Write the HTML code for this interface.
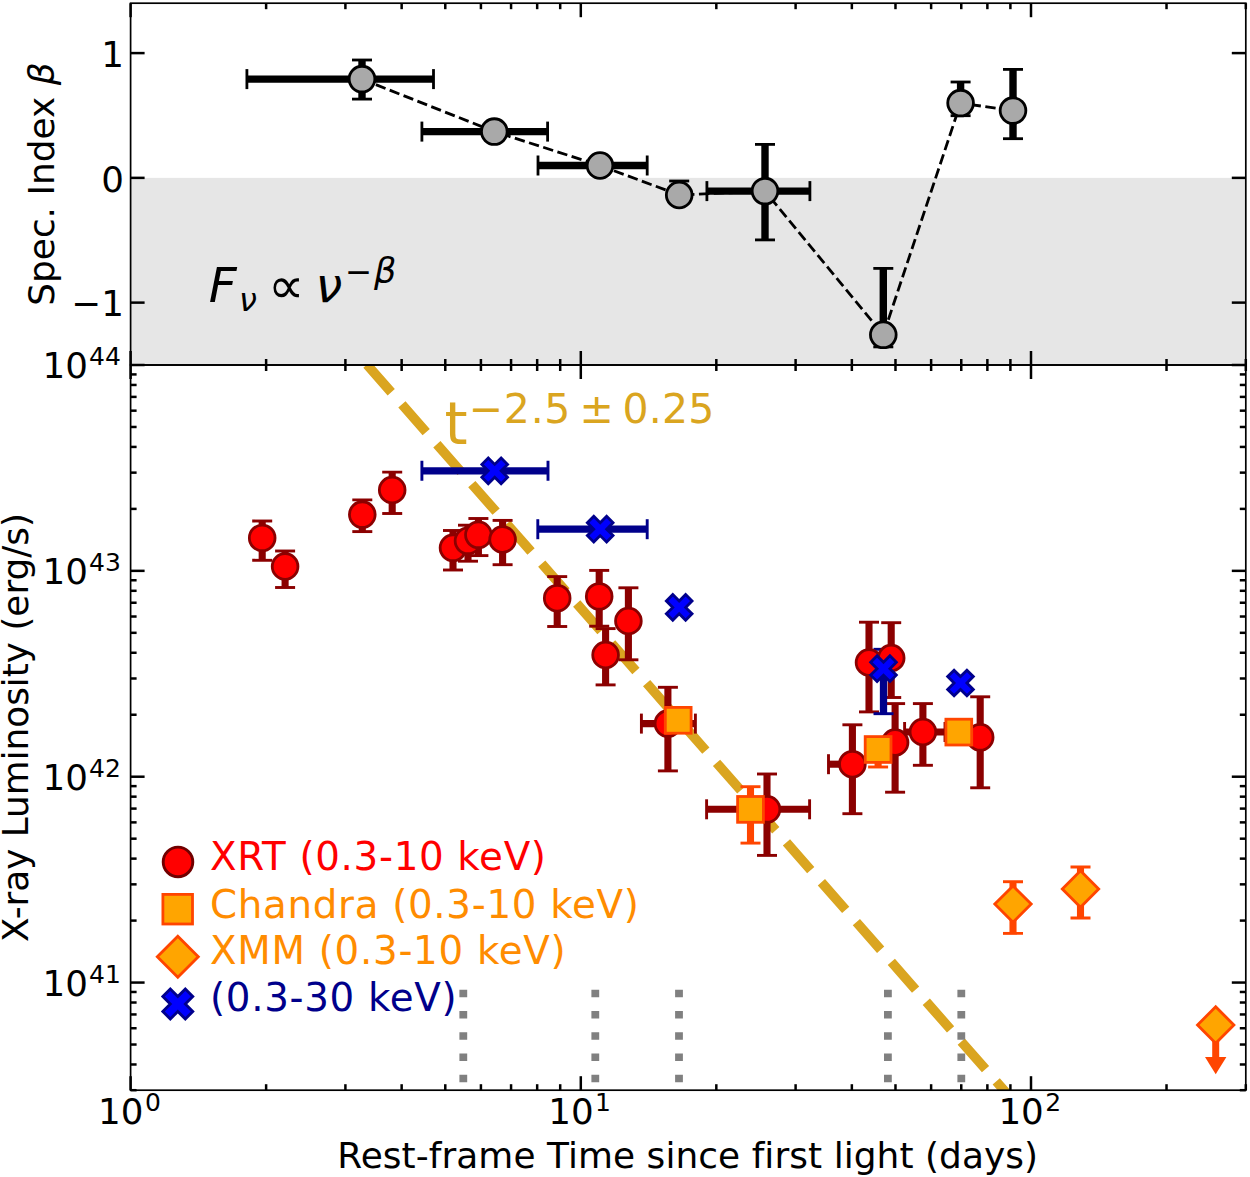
<!DOCTYPE html>
<html lang="en"><head><meta charset="utf-8"><title>X-ray luminosity and spectral index</title>
<style>html,body{margin:0;padding:0;background:#fff}svg{display:block}text{font-family:'DejaVu Sans','Liberation Sans',sans-serif;font-variant-ligatures:none;font-feature-settings:"liga" 0,"clig" 0;font-kerning:normal;}</style></head><body>
<svg width="1250" height="1177" viewBox="0 0 1250 1177">
<rect x="0" y="0" width="1250" height="1177" fill="#ffffff"/>
<rect x="130.60" y="177.86" width="1115.20" height="187.14" fill="#e6e6e6"/>
<g id="top-series">
<line x1="246.9" y1="79.1" x2="433.5" y2="79.1" stroke="#000" stroke-width="7.4"/>
<line x1="362.0" y1="60.0" x2="362.0" y2="99.1" stroke="#000" stroke-width="7.4"/>
<line x1="421.9" y1="131.6" x2="547.6" y2="131.6" stroke="#000" stroke-width="7.4"/>
<line x1="538.0" y1="165.5" x2="647.2" y2="165.5" stroke="#000" stroke-width="7.4"/>
<line x1="679.2" y1="181.0" x2="679.2" y2="203.0" stroke="#000" stroke-width="7.4"/>
<line x1="706.9" y1="191.1" x2="809.9" y2="191.1" stroke="#000" stroke-width="7.4"/>
<line x1="765.0" y1="144.4" x2="765.0" y2="239.9" stroke="#000" stroke-width="7.4"/>
<line x1="883.3" y1="268.4" x2="883.3" y2="346.9" stroke="#000" stroke-width="7.4"/>
<line x1="960.6" y1="82.0" x2="960.6" y2="115.7" stroke="#000" stroke-width="7.4"/>
<line x1="1013.0" y1="69.4" x2="1013.0" y2="138.7" stroke="#000" stroke-width="7.4"/>
<line x1="246.9" y1="69.1" x2="246.9" y2="89.1" stroke="#000" stroke-width="2.8"/>
<line x1="433.5" y1="69.1" x2="433.5" y2="89.1" stroke="#000" stroke-width="2.8"/>
<line x1="352.0" y1="60.0" x2="372.0" y2="60.0" stroke="#000" stroke-width="2.8"/>
<line x1="352.0" y1="99.1" x2="372.0" y2="99.1" stroke="#000" stroke-width="2.8"/>
<line x1="421.9" y1="121.6" x2="421.9" y2="141.6" stroke="#000" stroke-width="2.8"/>
<line x1="547.6" y1="121.6" x2="547.6" y2="141.6" stroke="#000" stroke-width="2.8"/>
<line x1="538.0" y1="155.5" x2="538.0" y2="175.5" stroke="#000" stroke-width="2.8"/>
<line x1="647.2" y1="155.5" x2="647.2" y2="175.5" stroke="#000" stroke-width="2.8"/>
<line x1="669.2" y1="181.0" x2="689.2" y2="181.0" stroke="#000" stroke-width="2.8"/>
<line x1="669.2" y1="203.0" x2="689.2" y2="203.0" stroke="#000" stroke-width="2.8"/>
<line x1="706.9" y1="181.1" x2="706.9" y2="201.1" stroke="#000" stroke-width="2.8"/>
<line x1="809.9" y1="181.1" x2="809.9" y2="201.1" stroke="#000" stroke-width="2.8"/>
<line x1="755.0" y1="144.4" x2="775.0" y2="144.4" stroke="#000" stroke-width="2.8"/>
<line x1="755.0" y1="239.9" x2="775.0" y2="239.9" stroke="#000" stroke-width="2.8"/>
<line x1="873.3" y1="268.4" x2="893.3" y2="268.4" stroke="#000" stroke-width="2.8"/>
<line x1="873.3" y1="346.9" x2="893.3" y2="346.9" stroke="#000" stroke-width="2.8"/>
<line x1="950.6" y1="82.0" x2="970.6" y2="82.0" stroke="#000" stroke-width="2.8"/>
<line x1="950.6" y1="115.7" x2="970.6" y2="115.7" stroke="#000" stroke-width="2.8"/>
<line x1="1003.0" y1="69.4" x2="1023.0" y2="69.4" stroke="#000" stroke-width="2.8"/>
<line x1="1003.0" y1="138.7" x2="1023.0" y2="138.7" stroke="#000" stroke-width="2.8"/>
<polyline fill="none" stroke="#000" stroke-width="2.8" stroke-dasharray="10.4 4.5" points="362.0,79.1 494.3,131.6 600.0,165.5 679.2,195.0 765.0,191.1 883.3,334.8 960.6,103.1 1013.0,110.6"/>
<circle cx="362.0" cy="79.1" r="12.85" fill="#a9a9a9" stroke="#000" stroke-width="2.8"/>
<circle cx="494.3" cy="131.6" r="12.85" fill="#a9a9a9" stroke="#000" stroke-width="2.8"/>
<circle cx="600.0" cy="165.5" r="12.85" fill="#a9a9a9" stroke="#000" stroke-width="2.8"/>
<circle cx="679.2" cy="195.0" r="12.85" fill="#a9a9a9" stroke="#000" stroke-width="2.8"/>
<circle cx="765.0" cy="191.1" r="12.85" fill="#a9a9a9" stroke="#000" stroke-width="2.8"/>
<circle cx="883.3" cy="334.8" r="12.85" fill="#a9a9a9" stroke="#000" stroke-width="2.8"/>
<circle cx="960.6" cy="103.1" r="12.85" fill="#a9a9a9" stroke="#000" stroke-width="2.8"/>
<circle cx="1013.0" cy="110.6" r="12.85" fill="#a9a9a9" stroke="#000" stroke-width="2.8"/>
</g>
<defs><clipPath id="cb"><rect x="130.60" y="365.00" width="1115.20" height="725.20"/></clipPath></defs>
<g clip-path="url(#cb)">
<line x1="366.94" y1="364.58" x2="1034.14" y2="1124.58" stroke="#daa520" stroke-width="9.6" stroke-dasharray="36.8 16.19"/>
<line x1="463.3" y1="989.7" x2="463.3" y2="1090.2" stroke="#808080" stroke-width="7.8" stroke-dasharray="7.6 13.66"/>
<line x1="595.3" y1="989.7" x2="595.3" y2="1090.2" stroke="#808080" stroke-width="7.8" stroke-dasharray="7.6 13.66"/>
<line x1="679.0" y1="989.7" x2="679.0" y2="1090.2" stroke="#808080" stroke-width="7.8" stroke-dasharray="7.6 13.66"/>
<line x1="887.9" y1="989.7" x2="887.9" y2="1090.2" stroke="#808080" stroke-width="7.8" stroke-dasharray="7.6 13.66"/>
<line x1="961.3" y1="989.7" x2="961.3" y2="1090.2" stroke="#808080" stroke-width="7.8" stroke-dasharray="7.6 13.66"/>
<g id="errorbars">
<line x1="262.2" y1="521.0" x2="262.2" y2="560.3" stroke="#8b0000" stroke-width="7.1"/>
<line x1="285.1" y1="551.0" x2="285.1" y2="587.5" stroke="#8b0000" stroke-width="7.1"/>
<line x1="362.3" y1="499.9" x2="362.3" y2="531.6" stroke="#8b0000" stroke-width="7.1"/>
<line x1="392.2" y1="472.1" x2="392.2" y2="513.5" stroke="#8b0000" stroke-width="7.1"/>
<line x1="453.0" y1="530.5" x2="453.0" y2="570.0" stroke="#8b0000" stroke-width="7.1"/>
<line x1="468.0" y1="525.2" x2="468.0" y2="561.2" stroke="#8b0000" stroke-width="7.1"/>
<line x1="478.4" y1="518.5" x2="478.4" y2="555.6" stroke="#8b0000" stroke-width="7.1"/>
<line x1="502.6" y1="520.4" x2="502.6" y2="564.7" stroke="#8b0000" stroke-width="7.1"/>
<line x1="557.2" y1="576.6" x2="557.2" y2="626.5" stroke="#8b0000" stroke-width="7.1"/>
<line x1="599.2" y1="570.4" x2="599.2" y2="626.2" stroke="#8b0000" stroke-width="7.1"/>
<line x1="605.6" y1="628.6" x2="605.6" y2="684.9" stroke="#8b0000" stroke-width="7.1"/>
<line x1="628.4" y1="587.8" x2="628.4" y2="659.8" stroke="#8b0000" stroke-width="7.1"/>
<line x1="641.4" y1="723.6" x2="695.4" y2="723.6" stroke="#8b0000" stroke-width="7.1"/>
<line x1="667.9" y1="687.3" x2="667.9" y2="770.9" stroke="#8b0000" stroke-width="7.1"/>
<line x1="706.6" y1="809.3" x2="809.6" y2="809.3" stroke="#8b0000" stroke-width="7.1"/>
<line x1="767.0" y1="774.0" x2="767.0" y2="855.4" stroke="#8b0000" stroke-width="7.1"/>
<line x1="828.5" y1="764.2" x2="860.0" y2="764.2" stroke="#8b0000" stroke-width="7.1"/>
<line x1="852.4" y1="724.8" x2="852.4" y2="813.7" stroke="#8b0000" stroke-width="7.1"/>
<line x1="869.0" y1="622.2" x2="869.0" y2="711.9" stroke="#8b0000" stroke-width="7.1"/>
<line x1="891.2" y1="622.7" x2="891.2" y2="697.5" stroke="#8b0000" stroke-width="7.1"/>
<line x1="895.1" y1="703.6" x2="895.1" y2="792.2" stroke="#8b0000" stroke-width="7.1"/>
<line x1="904.6" y1="732.0" x2="945.0" y2="732.0" stroke="#8b0000" stroke-width="7.1"/>
<line x1="922.9" y1="703.6" x2="922.9" y2="765.3" stroke="#8b0000" stroke-width="7.1"/>
<line x1="980.2" y1="696.8" x2="980.2" y2="787.8" stroke="#8b0000" stroke-width="7.1"/>
<line x1="252.2" y1="521.0" x2="272.2" y2="521.0" stroke="#8b0000" stroke-width="2.9"/>
<line x1="252.2" y1="560.3" x2="272.2" y2="560.3" stroke="#8b0000" stroke-width="2.9"/>
<line x1="275.1" y1="551.0" x2="295.1" y2="551.0" stroke="#8b0000" stroke-width="2.9"/>
<line x1="275.1" y1="587.5" x2="295.1" y2="587.5" stroke="#8b0000" stroke-width="2.9"/>
<line x1="352.3" y1="499.9" x2="372.3" y2="499.9" stroke="#8b0000" stroke-width="2.9"/>
<line x1="352.3" y1="531.6" x2="372.3" y2="531.6" stroke="#8b0000" stroke-width="2.9"/>
<line x1="382.2" y1="472.1" x2="402.2" y2="472.1" stroke="#8b0000" stroke-width="2.9"/>
<line x1="382.2" y1="513.5" x2="402.2" y2="513.5" stroke="#8b0000" stroke-width="2.9"/>
<line x1="443.0" y1="530.5" x2="463.0" y2="530.5" stroke="#8b0000" stroke-width="2.9"/>
<line x1="443.0" y1="570.0" x2="463.0" y2="570.0" stroke="#8b0000" stroke-width="2.9"/>
<line x1="458.0" y1="525.2" x2="478.0" y2="525.2" stroke="#8b0000" stroke-width="2.9"/>
<line x1="458.0" y1="561.2" x2="478.0" y2="561.2" stroke="#8b0000" stroke-width="2.9"/>
<line x1="468.4" y1="518.5" x2="488.4" y2="518.5" stroke="#8b0000" stroke-width="2.9"/>
<line x1="468.4" y1="555.6" x2="488.4" y2="555.6" stroke="#8b0000" stroke-width="2.9"/>
<line x1="492.6" y1="520.4" x2="512.6" y2="520.4" stroke="#8b0000" stroke-width="2.9"/>
<line x1="492.6" y1="564.7" x2="512.6" y2="564.7" stroke="#8b0000" stroke-width="2.9"/>
<line x1="547.2" y1="576.6" x2="567.2" y2="576.6" stroke="#8b0000" stroke-width="2.9"/>
<line x1="547.2" y1="626.5" x2="567.2" y2="626.5" stroke="#8b0000" stroke-width="2.9"/>
<line x1="589.2" y1="570.4" x2="609.2" y2="570.4" stroke="#8b0000" stroke-width="2.9"/>
<line x1="589.2" y1="626.2" x2="609.2" y2="626.2" stroke="#8b0000" stroke-width="2.9"/>
<line x1="595.6" y1="628.6" x2="615.6" y2="628.6" stroke="#8b0000" stroke-width="2.9"/>
<line x1="595.6" y1="684.9" x2="615.6" y2="684.9" stroke="#8b0000" stroke-width="2.9"/>
<line x1="618.4" y1="587.8" x2="638.4" y2="587.8" stroke="#8b0000" stroke-width="2.9"/>
<line x1="618.4" y1="659.8" x2="638.4" y2="659.8" stroke="#8b0000" stroke-width="2.9"/>
<line x1="641.4" y1="713.6" x2="641.4" y2="733.6" stroke="#8b0000" stroke-width="2.9"/>
<line x1="695.4" y1="713.6" x2="695.4" y2="733.6" stroke="#8b0000" stroke-width="2.9"/>
<line x1="657.9" y1="687.3" x2="677.9" y2="687.3" stroke="#8b0000" stroke-width="2.9"/>
<line x1="657.9" y1="770.9" x2="677.9" y2="770.9" stroke="#8b0000" stroke-width="2.9"/>
<line x1="706.6" y1="799.3" x2="706.6" y2="819.3" stroke="#8b0000" stroke-width="2.9"/>
<line x1="809.6" y1="799.3" x2="809.6" y2="819.3" stroke="#8b0000" stroke-width="2.9"/>
<line x1="757.0" y1="774.0" x2="777.0" y2="774.0" stroke="#8b0000" stroke-width="2.9"/>
<line x1="757.0" y1="855.4" x2="777.0" y2="855.4" stroke="#8b0000" stroke-width="2.9"/>
<line x1="828.5" y1="754.2" x2="828.5" y2="774.2" stroke="#8b0000" stroke-width="2.9"/>
<line x1="860.0" y1="754.2" x2="860.0" y2="774.2" stroke="#8b0000" stroke-width="2.9"/>
<line x1="842.4" y1="724.8" x2="862.4" y2="724.8" stroke="#8b0000" stroke-width="2.9"/>
<line x1="842.4" y1="813.7" x2="862.4" y2="813.7" stroke="#8b0000" stroke-width="2.9"/>
<line x1="859.0" y1="622.2" x2="879.0" y2="622.2" stroke="#8b0000" stroke-width="2.9"/>
<line x1="859.0" y1="711.9" x2="879.0" y2="711.9" stroke="#8b0000" stroke-width="2.9"/>
<line x1="881.2" y1="622.7" x2="901.2" y2="622.7" stroke="#8b0000" stroke-width="2.9"/>
<line x1="881.2" y1="697.5" x2="901.2" y2="697.5" stroke="#8b0000" stroke-width="2.9"/>
<line x1="885.1" y1="703.6" x2="905.1" y2="703.6" stroke="#8b0000" stroke-width="2.9"/>
<line x1="885.1" y1="792.2" x2="905.1" y2="792.2" stroke="#8b0000" stroke-width="2.9"/>
<line x1="904.6" y1="722.0" x2="904.6" y2="742.0" stroke="#8b0000" stroke-width="2.9"/>
<line x1="945.0" y1="722.0" x2="945.0" y2="742.0" stroke="#8b0000" stroke-width="2.9"/>
<line x1="912.9" y1="703.6" x2="932.9" y2="703.6" stroke="#8b0000" stroke-width="2.9"/>
<line x1="912.9" y1="765.3" x2="932.9" y2="765.3" stroke="#8b0000" stroke-width="2.9"/>
<line x1="970.2" y1="696.8" x2="990.2" y2="696.8" stroke="#8b0000" stroke-width="2.9"/>
<line x1="970.2" y1="787.8" x2="990.2" y2="787.8" stroke="#8b0000" stroke-width="2.9"/>
<line x1="678.2" y1="712.0" x2="678.2" y2="728.0" stroke="#ff4500" stroke-width="7.1"/>
<line x1="750.5" y1="786.7" x2="750.5" y2="843.1" stroke="#ff4500" stroke-width="7.1"/>
<line x1="878.1" y1="738.0" x2="878.1" y2="767.0" stroke="#ff4500" stroke-width="7.1"/>
<line x1="958.8" y1="724.0" x2="958.8" y2="740.0" stroke="#ff4500" stroke-width="7.1"/>
<line x1="668.2" y1="712.0" x2="688.2" y2="712.0" stroke="#ff4500" stroke-width="2.9"/>
<line x1="668.2" y1="728.0" x2="688.2" y2="728.0" stroke="#ff4500" stroke-width="2.9"/>
<line x1="740.5" y1="786.7" x2="760.5" y2="786.7" stroke="#ff4500" stroke-width="2.9"/>
<line x1="740.5" y1="843.1" x2="760.5" y2="843.1" stroke="#ff4500" stroke-width="2.9"/>
<line x1="868.1" y1="738.0" x2="888.1" y2="738.0" stroke="#ff4500" stroke-width="2.9"/>
<line x1="868.1" y1="767.0" x2="888.1" y2="767.0" stroke="#ff4500" stroke-width="2.9"/>
<line x1="948.8" y1="724.0" x2="968.8" y2="724.0" stroke="#ff4500" stroke-width="2.9"/>
<line x1="948.8" y1="740.0" x2="968.8" y2="740.0" stroke="#ff4500" stroke-width="2.9"/>
<line x1="1013.0" y1="881.7" x2="1013.0" y2="933.4" stroke="#ff4500" stroke-width="7.1"/>
<line x1="1080.5" y1="867.0" x2="1080.5" y2="918.0" stroke="#ff4500" stroke-width="7.1"/>
<line x1="1003.0" y1="881.7" x2="1023.0" y2="881.7" stroke="#ff4500" stroke-width="2.9"/>
<line x1="1003.0" y1="933.4" x2="1023.0" y2="933.4" stroke="#ff4500" stroke-width="2.9"/>
<line x1="1070.5" y1="867.0" x2="1090.5" y2="867.0" stroke="#ff4500" stroke-width="2.9"/>
<line x1="1070.5" y1="918.0" x2="1090.5" y2="918.0" stroke="#ff4500" stroke-width="2.9"/>
<line x1="421.9" y1="470.8" x2="548.0" y2="470.8" stroke="#00008b" stroke-width="7.3"/>
<line x1="537.8" y1="529.2" x2="647.2" y2="529.2" stroke="#00008b" stroke-width="7.3"/>
<line x1="883.5" y1="649.3" x2="883.5" y2="713.7" stroke="#00008b" stroke-width="7.3"/>
<line x1="421.9" y1="460.8" x2="421.9" y2="480.8" stroke="#00008b" stroke-width="2.9"/>
<line x1="548.0" y1="460.8" x2="548.0" y2="480.8" stroke="#00008b" stroke-width="2.9"/>
<line x1="537.8" y1="519.2" x2="537.8" y2="539.2" stroke="#00008b" stroke-width="2.9"/>
<line x1="647.2" y1="519.2" x2="647.2" y2="539.2" stroke="#00008b" stroke-width="2.9"/>
<line x1="873.5" y1="649.3" x2="893.5" y2="649.3" stroke="#00008b" stroke-width="2.9"/>
<line x1="873.5" y1="713.7" x2="893.5" y2="713.7" stroke="#00008b" stroke-width="2.9"/>
<line x1="1215.7" y1="1025.0" x2="1215.7" y2="1058.0" stroke="#ff4500" stroke-width="7.0"/>
<path d="M1205.0 1056.9 L1226.4 1056.9 L1215.7 1074.3Z" fill="#ff4500"/>
</g>
<g id="xrt">
<circle cx="262.2" cy="537.9" r="12.85" fill="#ff0000" stroke="#8b0000" stroke-width="2.8"/>
<circle cx="285.1" cy="566.5" r="12.85" fill="#ff0000" stroke="#8b0000" stroke-width="2.8"/>
<circle cx="362.3" cy="514.6" r="12.85" fill="#ff0000" stroke="#8b0000" stroke-width="2.8"/>
<circle cx="392.2" cy="490.0" r="12.85" fill="#ff0000" stroke="#8b0000" stroke-width="2.8"/>
<circle cx="453.0" cy="547.8" r="12.85" fill="#ff0000" stroke="#8b0000" stroke-width="2.8"/>
<circle cx="468.0" cy="540.8" r="12.85" fill="#ff0000" stroke="#8b0000" stroke-width="2.8"/>
<circle cx="478.4" cy="534.8" r="12.85" fill="#ff0000" stroke="#8b0000" stroke-width="2.8"/>
<circle cx="502.6" cy="539.5" r="12.85" fill="#ff0000" stroke="#8b0000" stroke-width="2.8"/>
<circle cx="557.2" cy="598.2" r="12.85" fill="#ff0000" stroke="#8b0000" stroke-width="2.8"/>
<circle cx="599.2" cy="596.4" r="12.85" fill="#ff0000" stroke="#8b0000" stroke-width="2.8"/>
<circle cx="605.6" cy="655.0" r="12.85" fill="#ff0000" stroke="#8b0000" stroke-width="2.8"/>
<circle cx="628.4" cy="621.0" r="12.85" fill="#ff0000" stroke="#8b0000" stroke-width="2.8"/>
<circle cx="667.9" cy="723.6" r="12.85" fill="#ff0000" stroke="#8b0000" stroke-width="2.8"/>
<circle cx="767.0" cy="809.3" r="12.85" fill="#ff0000" stroke="#8b0000" stroke-width="2.8"/>
<circle cx="852.4" cy="764.2" r="12.85" fill="#ff0000" stroke="#8b0000" stroke-width="2.8"/>
<circle cx="869.0" cy="662.5" r="12.85" fill="#ff0000" stroke="#8b0000" stroke-width="2.8"/>
<circle cx="891.2" cy="658.0" r="12.85" fill="#ff0000" stroke="#8b0000" stroke-width="2.8"/>
<circle cx="895.1" cy="742.5" r="12.85" fill="#ff0000" stroke="#8b0000" stroke-width="2.8"/>
<circle cx="922.9" cy="732.0" r="12.85" fill="#ff0000" stroke="#8b0000" stroke-width="2.8"/>
<circle cx="980.2" cy="737.3" r="12.85" fill="#ff0000" stroke="#8b0000" stroke-width="2.8"/>
</g>
<g id="chandra">
<rect x="665.3" y="707.4" width="25.8" height="25.8" fill="#ffa500" stroke="#ff4500" stroke-width="2.8"/>
<rect x="737.6" y="796.5" width="25.8" height="25.8" fill="#ffa500" stroke="#ff4500" stroke-width="2.8"/>
<rect x="865.2" y="736.6" width="25.8" height="25.8" fill="#ffa500" stroke="#ff4500" stroke-width="2.8"/>
<rect x="945.9" y="719.2" width="25.8" height="25.8" fill="#ffa500" stroke="#ff4500" stroke-width="2.8"/>
</g>
<g id="xmm">
<path d="M1013.0 885.9 L1031.2 904.1 L1013.0 922.3 L994.8 904.1Z" fill="#ffa500" stroke="#ff4500" stroke-width="2.8" stroke-linejoin="miter"/>
<path d="M1080.5 870.8 L1098.7 889.0 L1080.5 907.2 L1062.3 889.0Z" fill="#ffa500" stroke="#ff4500" stroke-width="2.8" stroke-linejoin="miter"/>
<path d="M1215.7 1006.8 L1233.9 1025.0 L1215.7 1043.2 L1197.5 1025.0Z" fill="#ffa500" stroke="#ff4500" stroke-width="2.8" stroke-linejoin="miter"/>
</g>
<g id="nustar">
<polygon points="488.27,457.95 494.70,464.38 501.12,457.95 507.55,464.38 501.12,470.80 507.55,477.23 501.12,483.65 494.70,477.23 488.27,483.65 481.85,477.23 488.27,470.80 481.85,464.38" fill="#0000ff" stroke="#00008b" stroke-width="2.8" stroke-linejoin="miter"/>
<polygon points="593.78,516.35 600.20,522.78 606.62,516.35 613.05,522.78 606.62,529.20 613.05,535.62 606.62,542.05 600.20,535.62 593.78,542.05 587.35,535.62 593.78,529.20 587.35,522.78" fill="#0000ff" stroke="#00008b" stroke-width="2.8" stroke-linejoin="miter"/>
<polygon points="672.78,594.55 679.20,600.98 685.62,594.55 692.05,600.98 685.62,607.40 692.05,613.82 685.62,620.25 679.20,613.82 672.78,620.25 666.35,613.82 672.78,607.40 666.35,600.98" fill="#0000ff" stroke="#00008b" stroke-width="2.8" stroke-linejoin="miter"/>
<polygon points="877.08,655.85 883.50,662.28 889.92,655.85 896.35,662.28 889.92,668.70 896.35,675.12 889.92,681.55 883.50,675.12 877.08,681.55 870.65,675.12 877.08,668.70 870.65,662.28" fill="#0000ff" stroke="#00008b" stroke-width="2.8" stroke-linejoin="miter"/>
<polygon points="954.08,670.15 960.50,676.58 966.92,670.15 973.35,676.58 966.92,683.00 973.35,689.42 966.92,695.85 960.50,689.42 954.08,695.85 947.65,689.42 954.08,683.00 947.65,676.58" fill="#0000ff" stroke="#00008b" stroke-width="2.8" stroke-linejoin="miter"/>
</g>
</g>
<circle cx="178.0" cy="861.9" r="14.8" fill="#ff0000" stroke="#700000" stroke-width="2.9"/>
<rect x="162.9" y="894.4" width="29.6" height="29.6" fill="#ffa500" stroke="#ff4500" stroke-width="2.8"/>
<path d="M177.8 936.3 L198.3 956.8 L177.8 977.3 L157.3 956.8Z" fill="#ffa500" stroke="#ff4500" stroke-width="2.8" stroke-linejoin="miter"/>
<polygon points="170.30,989.00 177.80,996.50 185.30,989.00 192.80,996.50 185.30,1004.00 192.80,1011.50 185.30,1019.00 177.80,1011.50 170.30,1019.00 162.80,1011.50 170.30,1004.00 162.80,996.50" fill="#0000ff" stroke="#00008b" stroke-width="2.8" stroke-linejoin="miter"/>
<text x="210" y="870.4" font-size="38.8" fill="#ff0000" textLength="336.0" lengthAdjust="spacing">XRT (0.3-10 keV)</text>
<text x="210" y="917.5" font-size="38.8" fill="#ff8c00" textLength="428.8" lengthAdjust="spacing">Chandra (0.3-10 keV)</text>
<text x="210" y="964.4" font-size="38.8" fill="#ff8c00" textLength="355.7" lengthAdjust="spacing">XMM (0.3-10 keV)</text>
<text x="210" y="1011.2" font-size="38.8" fill="#00008b" textLength="246.6" lengthAdjust="spacing">(0.3-30 keV)</text>
<text y="444.4" font-size="59" fill="#daa520"><tspan x="444.5">t</tspan><tspan font-size="41" y="422.5" x="468.8" letter-spacing="0.7">−2.5</tspan><tspan font-size="41" y="422.5" x="579.4">±</tspan><tspan font-size="41" y="422.5" x="622.4" letter-spacing="0.2">0.25</tspan></text>
<text font-size="48.5" fill="#000" font-style="italic"><tspan x="208.8" y="301.8">F</tspan><tspan font-size="32" x="239.1" y="310.6">ν</tspan><tspan x="268.1" y="302.8" font-size="51" font-style="normal">∝</tspan><tspan x="315.4" y="301.8" font-size="48">ν</tspan><tspan font-size="32.5" x="344.8" y="283.1" font-style="normal">−</tspan><tspan font-size="35" x="374" y="283.3">β</tspan></text>
<g id="ticks">
<line x1="130.60" y1="3.20" x2="130.60" y2="17.20" stroke="#000" stroke-width="2.5"/>
<line x1="130.60" y1="351.00" x2="130.60" y2="379.00" stroke="#000" stroke-width="2.5"/>
<line x1="130.60" y1="1076.20" x2="130.60" y2="1090.20" stroke="#000" stroke-width="2.5"/>
<line x1="266.12" y1="3.20" x2="266.12" y2="9.20" stroke="#000" stroke-width="2.5"/>
<line x1="266.12" y1="359.00" x2="266.12" y2="371.00" stroke="#000" stroke-width="2.5"/>
<line x1="266.12" y1="1084.20" x2="266.12" y2="1090.20" stroke="#000" stroke-width="2.5"/>
<line x1="345.40" y1="3.20" x2="345.40" y2="9.20" stroke="#000" stroke-width="2.5"/>
<line x1="345.40" y1="359.00" x2="345.40" y2="371.00" stroke="#000" stroke-width="2.5"/>
<line x1="345.40" y1="1084.20" x2="345.40" y2="1090.20" stroke="#000" stroke-width="2.5"/>
<line x1="401.65" y1="3.20" x2="401.65" y2="9.20" stroke="#000" stroke-width="2.5"/>
<line x1="401.65" y1="359.00" x2="401.65" y2="371.00" stroke="#000" stroke-width="2.5"/>
<line x1="401.65" y1="1084.20" x2="401.65" y2="1090.20" stroke="#000" stroke-width="2.5"/>
<line x1="445.28" y1="3.20" x2="445.28" y2="9.20" stroke="#000" stroke-width="2.5"/>
<line x1="445.28" y1="359.00" x2="445.28" y2="371.00" stroke="#000" stroke-width="2.5"/>
<line x1="445.28" y1="1084.20" x2="445.28" y2="1090.20" stroke="#000" stroke-width="2.5"/>
<line x1="480.92" y1="3.20" x2="480.92" y2="9.20" stroke="#000" stroke-width="2.5"/>
<line x1="480.92" y1="359.00" x2="480.92" y2="371.00" stroke="#000" stroke-width="2.5"/>
<line x1="480.92" y1="1084.20" x2="480.92" y2="1090.20" stroke="#000" stroke-width="2.5"/>
<line x1="511.06" y1="3.20" x2="511.06" y2="9.20" stroke="#000" stroke-width="2.5"/>
<line x1="511.06" y1="359.00" x2="511.06" y2="371.00" stroke="#000" stroke-width="2.5"/>
<line x1="511.06" y1="1084.20" x2="511.06" y2="1090.20" stroke="#000" stroke-width="2.5"/>
<line x1="537.17" y1="3.20" x2="537.17" y2="9.20" stroke="#000" stroke-width="2.5"/>
<line x1="537.17" y1="359.00" x2="537.17" y2="371.00" stroke="#000" stroke-width="2.5"/>
<line x1="537.17" y1="1084.20" x2="537.17" y2="1090.20" stroke="#000" stroke-width="2.5"/>
<line x1="560.20" y1="3.20" x2="560.20" y2="9.20" stroke="#000" stroke-width="2.5"/>
<line x1="560.20" y1="359.00" x2="560.20" y2="371.00" stroke="#000" stroke-width="2.5"/>
<line x1="560.20" y1="1084.20" x2="560.20" y2="1090.20" stroke="#000" stroke-width="2.5"/>
<line x1="580.80" y1="3.20" x2="580.80" y2="17.20" stroke="#000" stroke-width="2.5"/>
<line x1="580.80" y1="351.00" x2="580.80" y2="379.00" stroke="#000" stroke-width="2.5"/>
<line x1="580.80" y1="1076.20" x2="580.80" y2="1090.20" stroke="#000" stroke-width="2.5"/>
<line x1="716.32" y1="3.20" x2="716.32" y2="9.20" stroke="#000" stroke-width="2.5"/>
<line x1="716.32" y1="359.00" x2="716.32" y2="371.00" stroke="#000" stroke-width="2.5"/>
<line x1="716.32" y1="1084.20" x2="716.32" y2="1090.20" stroke="#000" stroke-width="2.5"/>
<line x1="795.60" y1="3.20" x2="795.60" y2="9.20" stroke="#000" stroke-width="2.5"/>
<line x1="795.60" y1="359.00" x2="795.60" y2="371.00" stroke="#000" stroke-width="2.5"/>
<line x1="795.60" y1="1084.20" x2="795.60" y2="1090.20" stroke="#000" stroke-width="2.5"/>
<line x1="851.85" y1="3.20" x2="851.85" y2="9.20" stroke="#000" stroke-width="2.5"/>
<line x1="851.85" y1="359.00" x2="851.85" y2="371.00" stroke="#000" stroke-width="2.5"/>
<line x1="851.85" y1="1084.20" x2="851.85" y2="1090.20" stroke="#000" stroke-width="2.5"/>
<line x1="895.48" y1="3.20" x2="895.48" y2="9.20" stroke="#000" stroke-width="2.5"/>
<line x1="895.48" y1="359.00" x2="895.48" y2="371.00" stroke="#000" stroke-width="2.5"/>
<line x1="895.48" y1="1084.20" x2="895.48" y2="1090.20" stroke="#000" stroke-width="2.5"/>
<line x1="931.12" y1="3.20" x2="931.12" y2="9.20" stroke="#000" stroke-width="2.5"/>
<line x1="931.12" y1="359.00" x2="931.12" y2="371.00" stroke="#000" stroke-width="2.5"/>
<line x1="931.12" y1="1084.20" x2="931.12" y2="1090.20" stroke="#000" stroke-width="2.5"/>
<line x1="961.26" y1="3.20" x2="961.26" y2="9.20" stroke="#000" stroke-width="2.5"/>
<line x1="961.26" y1="359.00" x2="961.26" y2="371.00" stroke="#000" stroke-width="2.5"/>
<line x1="961.26" y1="1084.20" x2="961.26" y2="1090.20" stroke="#000" stroke-width="2.5"/>
<line x1="987.37" y1="3.20" x2="987.37" y2="9.20" stroke="#000" stroke-width="2.5"/>
<line x1="987.37" y1="359.00" x2="987.37" y2="371.00" stroke="#000" stroke-width="2.5"/>
<line x1="987.37" y1="1084.20" x2="987.37" y2="1090.20" stroke="#000" stroke-width="2.5"/>
<line x1="1010.40" y1="3.20" x2="1010.40" y2="9.20" stroke="#000" stroke-width="2.5"/>
<line x1="1010.40" y1="359.00" x2="1010.40" y2="371.00" stroke="#000" stroke-width="2.5"/>
<line x1="1010.40" y1="1084.20" x2="1010.40" y2="1090.20" stroke="#000" stroke-width="2.5"/>
<line x1="1031.00" y1="3.20" x2="1031.00" y2="17.20" stroke="#000" stroke-width="2.5"/>
<line x1="1031.00" y1="351.00" x2="1031.00" y2="379.00" stroke="#000" stroke-width="2.5"/>
<line x1="1031.00" y1="1076.20" x2="1031.00" y2="1090.20" stroke="#000" stroke-width="2.5"/>
<line x1="1166.52" y1="3.20" x2="1166.52" y2="9.20" stroke="#000" stroke-width="2.5"/>
<line x1="1166.52" y1="359.00" x2="1166.52" y2="371.00" stroke="#000" stroke-width="2.5"/>
<line x1="1166.52" y1="1084.20" x2="1166.52" y2="1090.20" stroke="#000" stroke-width="2.5"/>
<line x1="1245.80" y1="3.20" x2="1245.80" y2="9.20" stroke="#000" stroke-width="2.5"/>
<line x1="1245.80" y1="359.00" x2="1245.80" y2="371.00" stroke="#000" stroke-width="2.5"/>
<line x1="1245.80" y1="1084.20" x2="1245.80" y2="1090.20" stroke="#000" stroke-width="2.5"/>
<line x1="130.60" y1="302.62" x2="144.60" y2="302.62" stroke="#000" stroke-width="2.5"/>
<line x1="1231.80" y1="302.62" x2="1245.80" y2="302.62" stroke="#000" stroke-width="2.5"/>
<line x1="130.60" y1="177.86" x2="144.60" y2="177.86" stroke="#000" stroke-width="2.5"/>
<line x1="1231.80" y1="177.86" x2="1245.80" y2="177.86" stroke="#000" stroke-width="2.5"/>
<line x1="130.60" y1="53.10" x2="144.60" y2="53.10" stroke="#000" stroke-width="2.5"/>
<line x1="1231.80" y1="53.10" x2="1245.80" y2="53.10" stroke="#000" stroke-width="2.5"/>
<line x1="130.60" y1="1090.20" x2="136.60" y2="1090.20" stroke="#000" stroke-width="2.5"/>
<line x1="1239.80" y1="1090.20" x2="1245.80" y2="1090.20" stroke="#000" stroke-width="2.5"/>
<line x1="130.60" y1="1064.48" x2="136.60" y2="1064.48" stroke="#000" stroke-width="2.5"/>
<line x1="1239.80" y1="1064.48" x2="1245.80" y2="1064.48" stroke="#000" stroke-width="2.5"/>
<line x1="130.60" y1="1044.53" x2="136.60" y2="1044.53" stroke="#000" stroke-width="2.5"/>
<line x1="1239.80" y1="1044.53" x2="1245.80" y2="1044.53" stroke="#000" stroke-width="2.5"/>
<line x1="130.60" y1="1028.23" x2="136.60" y2="1028.23" stroke="#000" stroke-width="2.5"/>
<line x1="1239.80" y1="1028.23" x2="1245.80" y2="1028.23" stroke="#000" stroke-width="2.5"/>
<line x1="130.60" y1="1014.45" x2="136.60" y2="1014.45" stroke="#000" stroke-width="2.5"/>
<line x1="1239.80" y1="1014.45" x2="1245.80" y2="1014.45" stroke="#000" stroke-width="2.5"/>
<line x1="130.60" y1="1002.51" x2="136.60" y2="1002.51" stroke="#000" stroke-width="2.5"/>
<line x1="1239.80" y1="1002.51" x2="1245.80" y2="1002.51" stroke="#000" stroke-width="2.5"/>
<line x1="130.60" y1="991.98" x2="136.60" y2="991.98" stroke="#000" stroke-width="2.5"/>
<line x1="1239.80" y1="991.98" x2="1245.80" y2="991.98" stroke="#000" stroke-width="2.5"/>
<line x1="130.60" y1="982.56" x2="144.60" y2="982.56" stroke="#000" stroke-width="2.5"/>
<line x1="1231.80" y1="982.56" x2="1245.80" y2="982.56" stroke="#000" stroke-width="2.5"/>
<line x1="130.60" y1="920.59" x2="136.60" y2="920.59" stroke="#000" stroke-width="2.5"/>
<line x1="1239.80" y1="920.59" x2="1245.80" y2="920.59" stroke="#000" stroke-width="2.5"/>
<line x1="130.60" y1="884.35" x2="136.60" y2="884.35" stroke="#000" stroke-width="2.5"/>
<line x1="1239.80" y1="884.35" x2="1245.80" y2="884.35" stroke="#000" stroke-width="2.5"/>
<line x1="130.60" y1="858.63" x2="136.60" y2="858.63" stroke="#000" stroke-width="2.5"/>
<line x1="1239.80" y1="858.63" x2="1245.80" y2="858.63" stroke="#000" stroke-width="2.5"/>
<line x1="130.60" y1="838.68" x2="136.60" y2="838.68" stroke="#000" stroke-width="2.5"/>
<line x1="1239.80" y1="838.68" x2="1245.80" y2="838.68" stroke="#000" stroke-width="2.5"/>
<line x1="130.60" y1="822.38" x2="136.60" y2="822.38" stroke="#000" stroke-width="2.5"/>
<line x1="1239.80" y1="822.38" x2="1245.80" y2="822.38" stroke="#000" stroke-width="2.5"/>
<line x1="130.60" y1="808.60" x2="136.60" y2="808.60" stroke="#000" stroke-width="2.5"/>
<line x1="1239.80" y1="808.60" x2="1245.80" y2="808.60" stroke="#000" stroke-width="2.5"/>
<line x1="130.60" y1="796.66" x2="136.60" y2="796.66" stroke="#000" stroke-width="2.5"/>
<line x1="1239.80" y1="796.66" x2="1245.80" y2="796.66" stroke="#000" stroke-width="2.5"/>
<line x1="130.60" y1="786.13" x2="136.60" y2="786.13" stroke="#000" stroke-width="2.5"/>
<line x1="1239.80" y1="786.13" x2="1245.80" y2="786.13" stroke="#000" stroke-width="2.5"/>
<line x1="130.60" y1="776.71" x2="144.60" y2="776.71" stroke="#000" stroke-width="2.5"/>
<line x1="1231.80" y1="776.71" x2="1245.80" y2="776.71" stroke="#000" stroke-width="2.5"/>
<line x1="130.60" y1="714.74" x2="136.60" y2="714.74" stroke="#000" stroke-width="2.5"/>
<line x1="1239.80" y1="714.74" x2="1245.80" y2="714.74" stroke="#000" stroke-width="2.5"/>
<line x1="130.60" y1="678.49" x2="136.60" y2="678.49" stroke="#000" stroke-width="2.5"/>
<line x1="1239.80" y1="678.49" x2="1245.80" y2="678.49" stroke="#000" stroke-width="2.5"/>
<line x1="130.60" y1="652.77" x2="136.60" y2="652.77" stroke="#000" stroke-width="2.5"/>
<line x1="1239.80" y1="652.77" x2="1245.80" y2="652.77" stroke="#000" stroke-width="2.5"/>
<line x1="130.60" y1="632.82" x2="136.60" y2="632.82" stroke="#000" stroke-width="2.5"/>
<line x1="1239.80" y1="632.82" x2="1245.80" y2="632.82" stroke="#000" stroke-width="2.5"/>
<line x1="130.60" y1="616.52" x2="136.60" y2="616.52" stroke="#000" stroke-width="2.5"/>
<line x1="1239.80" y1="616.52" x2="1245.80" y2="616.52" stroke="#000" stroke-width="2.5"/>
<line x1="130.60" y1="602.74" x2="136.60" y2="602.74" stroke="#000" stroke-width="2.5"/>
<line x1="1239.80" y1="602.74" x2="1245.80" y2="602.74" stroke="#000" stroke-width="2.5"/>
<line x1="130.60" y1="590.80" x2="136.60" y2="590.80" stroke="#000" stroke-width="2.5"/>
<line x1="1239.80" y1="590.80" x2="1245.80" y2="590.80" stroke="#000" stroke-width="2.5"/>
<line x1="130.60" y1="580.27" x2="136.60" y2="580.27" stroke="#000" stroke-width="2.5"/>
<line x1="1239.80" y1="580.27" x2="1245.80" y2="580.27" stroke="#000" stroke-width="2.5"/>
<line x1="130.60" y1="570.85" x2="144.60" y2="570.85" stroke="#000" stroke-width="2.5"/>
<line x1="1231.80" y1="570.85" x2="1245.80" y2="570.85" stroke="#000" stroke-width="2.5"/>
<line x1="130.60" y1="508.89" x2="136.60" y2="508.89" stroke="#000" stroke-width="2.5"/>
<line x1="1239.80" y1="508.89" x2="1245.80" y2="508.89" stroke="#000" stroke-width="2.5"/>
<line x1="130.60" y1="472.64" x2="136.60" y2="472.64" stroke="#000" stroke-width="2.5"/>
<line x1="1239.80" y1="472.64" x2="1245.80" y2="472.64" stroke="#000" stroke-width="2.5"/>
<line x1="130.60" y1="446.92" x2="136.60" y2="446.92" stroke="#000" stroke-width="2.5"/>
<line x1="1239.80" y1="446.92" x2="1245.80" y2="446.92" stroke="#000" stroke-width="2.5"/>
<line x1="130.60" y1="426.97" x2="136.60" y2="426.97" stroke="#000" stroke-width="2.5"/>
<line x1="1239.80" y1="426.97" x2="1245.80" y2="426.97" stroke="#000" stroke-width="2.5"/>
<line x1="130.60" y1="410.67" x2="136.60" y2="410.67" stroke="#000" stroke-width="2.5"/>
<line x1="1239.80" y1="410.67" x2="1245.80" y2="410.67" stroke="#000" stroke-width="2.5"/>
<line x1="130.60" y1="396.89" x2="136.60" y2="396.89" stroke="#000" stroke-width="2.5"/>
<line x1="1239.80" y1="396.89" x2="1245.80" y2="396.89" stroke="#000" stroke-width="2.5"/>
<line x1="130.60" y1="384.95" x2="136.60" y2="384.95" stroke="#000" stroke-width="2.5"/>
<line x1="1239.80" y1="384.95" x2="1245.80" y2="384.95" stroke="#000" stroke-width="2.5"/>
<line x1="130.60" y1="374.42" x2="136.60" y2="374.42" stroke="#000" stroke-width="2.5"/>
<line x1="1239.80" y1="374.42" x2="1245.80" y2="374.42" stroke="#000" stroke-width="2.5"/>
<line x1="130.60" y1="365.00" x2="144.60" y2="365.00" stroke="#000" stroke-width="2.5"/>
<line x1="1231.80" y1="365.00" x2="1245.80" y2="365.00" stroke="#000" stroke-width="2.5"/>
</g>
<rect x="130.60" y="3.20" width="1115.20" height="361.80" fill="none" stroke="#000" stroke-width="1.7"/>
<rect x="130.60" y="365.00" width="1115.20" height="725.20" fill="none" stroke="#000" stroke-width="1.7"/>
<text x="123.9" y="66.9" font-size="35.7" text-anchor="end">1</text>
<text x="123.9" y="191.7" font-size="35.7" text-anchor="end">0</text>
<text x="123.9" y="316.4" font-size="35.7" text-anchor="end">−1</text>
<text x="120.9" y="995.9" font-size="35.7" text-anchor="end">10<tspan font-size="25.0" dy="-13.4" dx="1.2">41</tspan></text>
<text x="120.9" y="790.0" font-size="35.7" text-anchor="end">10<tspan font-size="25.0" dy="-13.4" dx="1.2">42</tspan></text>
<text x="120.9" y="584.2" font-size="35.7" text-anchor="end">10<tspan font-size="25.0" dy="-13.4" dx="1.2">43</tspan></text>
<text x="120.9" y="378.3" font-size="35.7" text-anchor="end">10<tspan font-size="25.0" dy="-13.4" dx="1.2">44</tspan></text>
<text x="98.0" y="1124.2" font-size="35.7">10<tspan font-size="25.0" dy="-13.4" dx="1.5">0</tspan></text>
<text x="548.2" y="1124.2" font-size="35.7">10<tspan font-size="25.0" dy="-13.4" dx="1.5">1</tspan></text>
<text x="998.4" y="1124.2" font-size="35.7">10<tspan font-size="25.0" dy="-13.4" dx="1.5">2</tspan></text>
<text x="337.3" y="1167.8" font-size="35.9" textLength="700.8" lengthAdjust="spacing">Rest-frame Time since first light (days)</text>
<text transform="translate(28 727.6) rotate(-90)" font-size="35.8" text-anchor="middle">X-ray Luminosity (erg/s)</text>
<text transform="translate(53.8 184.1) rotate(-90)" font-size="35.9" text-anchor="middle">Spec. Index <tspan font-style="italic">β</tspan></text>
</svg></body></html>
